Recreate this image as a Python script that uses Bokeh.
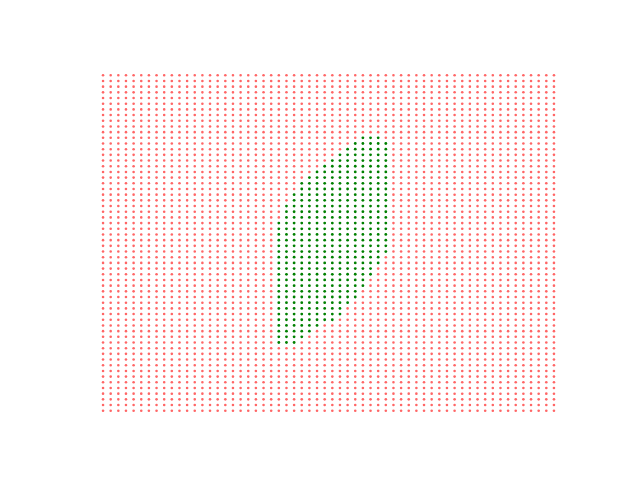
import numpy as np
from bokeh.plotting import figure
from bokeh.models import ColumnDataSource
from bokeh.embed import file_html
from bokeh.resources import INLINE

# Grid of sample points (60 x 60)
n_cols = 60
n_rows = 60
grid_x = np.arange(n_cols)
grid_y = np.arange(n_rows)

# Columns of the region that is inside the shape, with its top and bottom
# row (rows counted from the top of the grid)
inside_cols = [23, 24, 25, 26, 27, 28, 29, 30, 31, 32, 33, 34, 35, 36, 37]
inside_top_rows = [26, 23, 21, 19, 18, 17, 16, 15, 14, 13, 12, 11, 11, 11, 12]
inside_bottom_rows = [47, 47, 47, 46, 45, 44, 43, 43, 42, 40, 39, 37, 35, 33, 31]

XX, YY = np.meshgrid(grid_x, grid_y)
rows_from_top = (n_rows - 1) - YY
inside = np.zeros_like(XX, dtype=bool)
for c, t, b in zip(inside_cols, inside_top_rows, inside_bottom_rows):
    inside |= (XX == c) & (rows_from_top >= t) & (rows_from_top <= b)

out_src = ColumnDataSource(dict(x=XX[~inside].ravel(), y=YY[~inside].ravel()))
in_src = ColumnDataSource(dict(x=XX[inside].ravel(), y=YY[inside].ravel()))

mx = 0.05 * (n_cols - 1)
my = 0.05 * (n_rows - 1)
p = figure(width=640, height=480, output_backend="svg", toolbar_location=None,
           x_range=(-mx, n_cols - 1 + mx), y_range=(-my, n_rows - 1 + my),
           min_border_left=80, min_border_right=64, min_border_top=58, min_border_bottom=53)
p.axis.visible = False
p.grid.visible = False
p.outline_line_color = None
p.background_fill_color = "white"
p.border_fill_color = "white"

p.scatter("x", "y", source=out_src, size=2.6, fill_color="red", fill_alpha=0.6, line_color=None)
p.scatter("x", "y", source=in_src, size=2.8, fill_color="green", fill_alpha=1.0, line_color=None)

open("out.html", "w").write(file_html(p, INLINE))
